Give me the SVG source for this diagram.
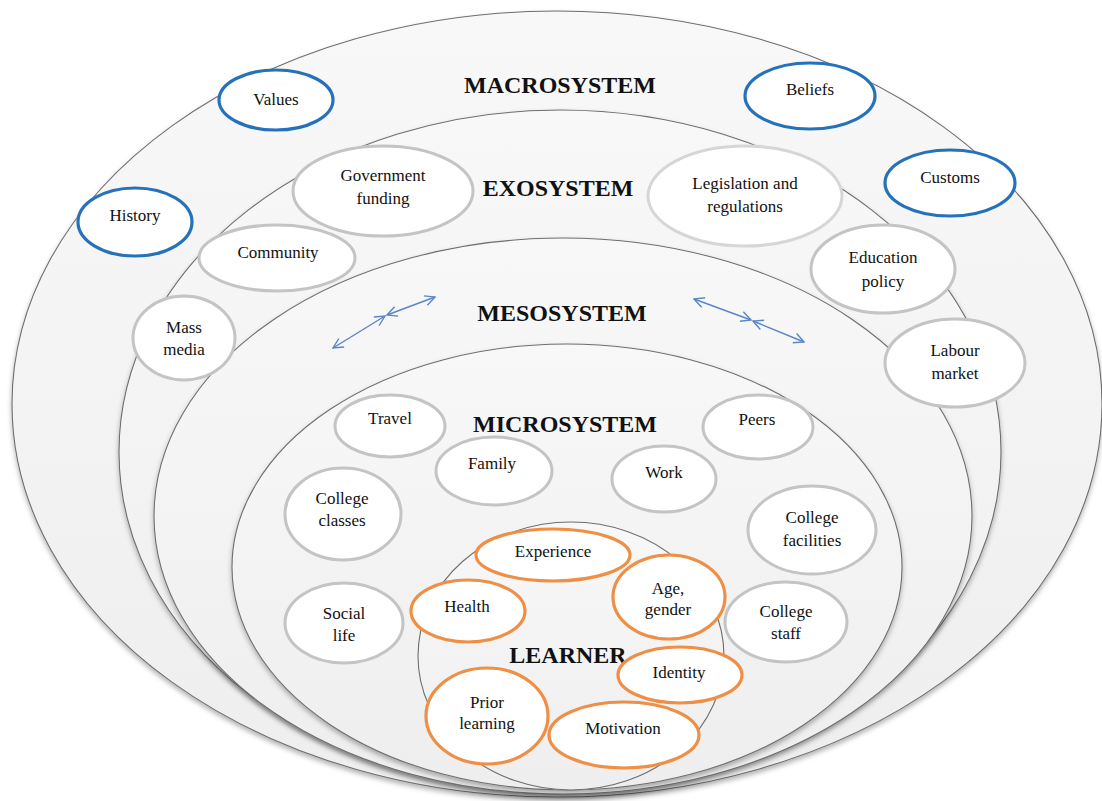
<svg xmlns="http://www.w3.org/2000/svg" width="1102" height="801" viewBox="0 0 1102 801">
<style>
.sys{stroke:#6e6e6e;stroke-width:1.1;fill:url(#g)}
.title{font-family:"Liberation Serif",serif;font-weight:bold;font-size:24px;fill:#111;text-anchor:middle}
.lbl{font-family:"Liberation Serif",serif;font-size:17px;fill:#111;text-anchor:middle}
.blue{fill:#fff;stroke:#2672BA;stroke-width:3.2}
.gray{fill:#fff;stroke:#c4c4c4;stroke-width:3}
.orange{fill:#fff;stroke:#EE8F45;stroke-width:3.2}
.arr{stroke:#5B86C5;stroke-width:1.4;fill:none;marker-start:url(#ah);marker-end:url(#ah)}
</style>
<defs>
<linearGradient id="g" x1="0" y1="0" x2="0" y2="1">
<stop offset="0" stop-color="#f8f8f8"/>
<stop offset="1" stop-color="#eeeeee"/>
</linearGradient>
<filter id="sh" x="-5%" y="-5%" width="110%" height="115%">
<feDropShadow dx="0" dy="3" stdDeviation="2.5" flood-color="#000" flood-opacity="0.3"/>
</filter>
<marker id="ah" viewBox="0 0 12 12" refX="11" refY="6" markerWidth="12" markerHeight="12" markerUnits="userSpaceOnUse" orient="auto-start-reverse">
<path d="M1,1 L11,6 L1,11" fill="none" stroke="#5B86C5" stroke-width="1.4"/>
</marker>
</defs>
<rect width="1102" height="801" fill="#fff"/>

<g id="macrosystem">
<ellipse class="sys" cx="557" cy="404" rx="545" ry="393" filter="url(#sh)"/>
<text class="title" x="560" y="93">MACROSYSTEM</text>
</g>
<g id="exosystem">
<ellipse class="sys" cx="560" cy="452" rx="441" ry="342" filter="url(#sh)"/>
<text class="title" x="558" y="196">EXOSYSTEM</text>
</g>
<g id="mesosystem">
<ellipse class="sys" cx="563" cy="516" rx="409" ry="278" filter="url(#sh)"/>
<text class="title" x="562" y="321">MESOSYSTEM</text>
</g>
<g id="microsystem">
<ellipse class="sys" cx="567" cy="567" rx="335" ry="223" filter="url(#sh)"/>
<text class="title" x="565" y="432">MICROSYSTEM</text>
</g>
<g id="learner">
<ellipse class="sys" cx="571" cy="656" rx="153" ry="134"/>
</g>

<g id="connectors">
<line class="arr" x1="333" y1="348" x2="385" y2="316"/>
<line class="arr" x1="387" y1="315" x2="435" y2="297"/>
<line class="arr" x1="694" y1="299" x2="751" y2="320"/>
<line class="arr" x1="753" y1="321" x2="804" y2="342"/>
</g>

<g id="values"><ellipse class="blue" cx="276" cy="100" rx="57" ry="30"/><text class="lbl" x="276" y="105">Values</text></g>
<g id="beliefs"><ellipse class="blue" cx="810" cy="96" rx="65" ry="33"/><text class="lbl" x="810" y="95">Beliefs</text></g>
<g id="customs"><ellipse class="blue" cx="950" cy="183" rx="65" ry="33"/><text class="lbl" x="950" y="183">Customs</text></g>
<g id="history"><ellipse class="blue" cx="135" cy="222" rx="57" ry="34"/><text class="lbl" x="135" y="221">History</text></g>

<g id="government-funding"><ellipse class="gray" cx="383" cy="191" rx="90" ry="45"/><text class="lbl" x="383" y="181">Government</text><text class="lbl" x="383" y="204">funding</text></g>
<g id="community"><ellipse class="gray" cx="277" cy="258" rx="78" ry="33"/><text class="lbl" x="278" y="258">Community</text></g>
<g id="mass-media"><ellipse class="gray" cx="184" cy="338" rx="51" ry="42"/><text class="lbl" x="184" y="333">Mass</text><text class="lbl" x="184" y="355">media</text></g>
<g id="legislation"><ellipse class="gray" cx="745" cy="196" rx="97" ry="50" style="stroke:#d6d6d6"/><text class="lbl" x="745" y="189">Legislation and</text><text class="lbl" x="745" y="212">regulations</text></g>
<g id="education-policy"><ellipse class="gray" cx="883" cy="269" rx="72" ry="44"/><text class="lbl" x="883" y="263">Education</text><text class="lbl" x="883" y="287">policy</text></g>
<g id="labour-market"><ellipse class="gray" cx="955" cy="363" rx="70" ry="44"/><text class="lbl" x="955" y="356">Labour</text><text class="lbl" x="955" y="379">market</text></g>

<g id="travel"><ellipse class="gray" cx="390" cy="426" rx="55" ry="31"/><text class="lbl" x="390" y="424">Travel</text></g>
<g id="family"><ellipse class="gray" cx="494" cy="471" rx="58" ry="34"/><text class="lbl" x="492" y="469">Family</text></g>
<g id="work"><ellipse class="gray" cx="664" cy="479" rx="52" ry="33"/><text class="lbl" x="664" y="478">Work</text></g>
<g id="peers"><ellipse class="gray" cx="758" cy="427" rx="55" ry="32"/><text class="lbl" x="757" y="425">Peers</text></g>
<g id="college-classes"><ellipse class="gray" cx="343" cy="514" rx="58" ry="46"/><text class="lbl" x="342" y="504">College</text><text class="lbl" x="342" y="526">classes</text></g>
<g id="college-facilities"><ellipse class="gray" cx="812" cy="530" rx="64" ry="44"/><text class="lbl" x="812" y="523">College</text><text class="lbl" x="812" y="546">facilities</text></g>
<g id="social-life"><ellipse class="gray" cx="344" cy="623" rx="59" ry="40"/><text class="lbl" x="344" y="619">Social</text><text class="lbl" x="344" y="641">life</text></g>
<g id="college-staff"><ellipse class="gray" cx="786" cy="622" rx="61" ry="40"/><text class="lbl" x="786" y="617">College</text><text class="lbl" x="786" y="639">staff</text></g>

<g id="experience"><ellipse class="orange" cx="553" cy="555" rx="77" ry="26"/><text class="lbl" x="553" y="557">Experience</text></g>
<g id="age-gender"><ellipse class="orange" cx="669" cy="597" rx="56" ry="42"/><text class="lbl" x="668" y="594">Age,</text><text class="lbl" x="668" y="615">gender</text></g>
<g id="health"><ellipse class="orange" cx="468" cy="611" rx="57" ry="31"/><text class="lbl" x="467" y="612">Health</text></g>
<text class="title" x="568" y="663">LEARNER</text>
<g id="identity"><ellipse class="orange" cx="680" cy="675" rx="62" ry="28"/><text class="lbl" x="679" y="678">Identity</text></g>
<g id="prior-learning"><ellipse class="orange" cx="487" cy="716" rx="61" ry="48"/><text class="lbl" x="487" y="708">Prior</text><text class="lbl" x="487" y="729">learning</text></g>
<g id="motivation"><ellipse class="orange" cx="624" cy="735" rx="75" ry="33"/><text class="lbl" x="623" y="734">Motivation</text></g>
</svg>
